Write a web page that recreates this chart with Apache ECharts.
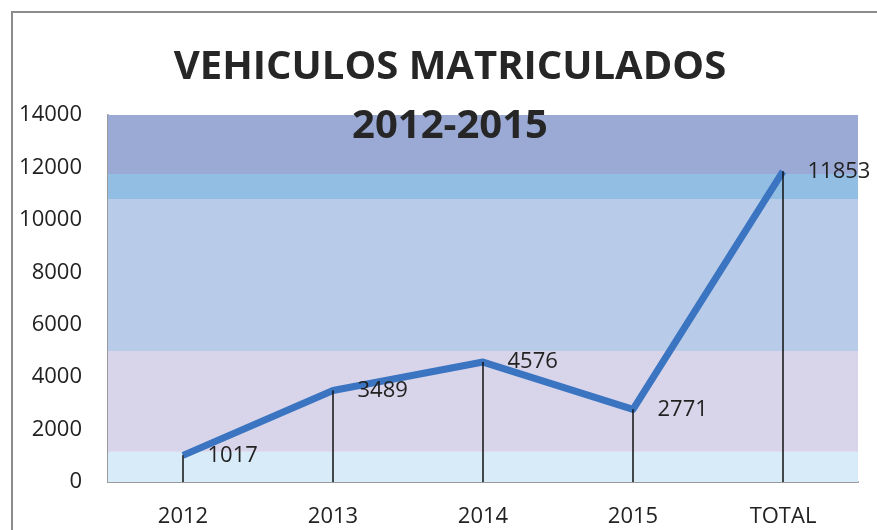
<!DOCTYPE html>
<html lang="es">
    <head>
        <meta charset="UTF-8">
        <title>Vehiculos matriculados 2012-2015</title>
        <style>
            *{
                margin: 0;
                padding: 0;
            }
            body{
                background: #ffffff;
            }
            #chart{
                width: 877px;
                height: 530px;
            }
        </style>
        <script type="text/javascript" src="https://cdn.jsdelivr.net/npm/echarts@6/dist/echarts.min.js"></script>
    </head>
    <body>
        <div id="chart"></div>
        <script>
            // data
            var categories = ['2012', '2013', '2014', '2015', 'TOTAL'];
            var vehicles = [1017, 3489, 4576, 2771, 11853];
            var yTicks = [0, 2000, 4000, 6000, 8000, 10000, 12000, 14000];
            // background bands (value ranges on the y axis)
            var bandEdges = [0, 1150, 5000, 10800, 11750, 14000];
            var bandColors = ['#d7ebf8', '#d8d5ea', '#b8cbe8', '#93bee3', '#9aaad5'];

            var chart = echarts.init(document.getElementById('chart'));

            var bands = [];
            for (var i = 0; i < bandColors.length; i++) {
                bands.push([
                    {yAxis: bandEdges[i], itemStyle: {color: bandColors[i]}},
                    {yAxis: bandEdges[i + 1]}
                ]);
            }

            // vertical drop lines from each point to the axis
            var drops = [];
            for (var j = 0; j < categories.length; j++) {
                drops.push([
                    {coord: [categories[j], vehicles[j]]},
                    {coord: [categories[j], 0]}
                ]);
            }

            var option = {
                animation: false,
                textStyle: {
                    fontFamily: 'Open Sans'
                },
                graphic: [{
                    type: 'rect',
                    shape: {x: 12, y: 12, width: 900, height: 560},
                    style: {fill: null, stroke: '#8c8c8c', lineWidth: 2},
                    silent: true
                }],
                title: {
                    text: 'VEHICULOS MATRICULADOS\n2012-2015',
                    left: 445,
                    top: 33,
                    textAlign: 'center',
                    textStyle: {
                        fontFamily: 'Open Sans',
                        fontSize: 40,
                        fontWeight: 'bold',
                        lineHeight: 59,
                        color: '#262626'
                    },
                    z: 10
                },
                grid: {
                    left: 108,
                    right: 19,
                    top: 115,
                    bottom: 48
                },
                xAxis: {
                    type: 'category',
                    data: categories,
                    axisTick: {show: false},
                    axisLine: {
                        lineStyle: {color: '#9a9a9a', width: 2}
                    },
                    axisLabel: {
                        margin: 24,
                        fontSize: 22,
                        color: '#222222'
                    }
                },
                yAxis: {
                    type: 'value',
                    min: yTicks[0],
                    max: yTicks[yTicks.length - 1],
                    interval: 2000,
                    splitLine: {show: false},
                    axisTick: {show: false},
                    axisLine: {
                        show: true,
                        lineStyle: {color: '#9a9a9a', width: 2}
                    },
                    axisLabel: {
                        margin: 26,
                        fontSize: 22,
                        color: '#222222',
                        formatter: function (v) {
                            return String(v);
                        }
                    }
                },
                series: [{
                    name: 'bands',
                    type: 'line',
                    data: [],
                    z: 1,
                    silent: true,
                    markArea: {
                        silent: true,
                        data: bands
                    }
                }, {
                    name: 'Vehiculos',
                    type: 'line',
                    data: vehicles,
                    z: 3,
                    smooth: false,
                    showSymbol: true,
                    symbol: 'circle',
                    symbolSize: 1,
                    itemStyle: {color: '#3b74c1'},
                    lineStyle: {
                        color: '#3b74c1',
                        width: 7,
                        join: 'round'
                    },
                    label: {
                        show: true,
                        position: 'right',
                        distance: 24,
                        fontSize: 22,
                        color: '#222222'
                    },
                    markLine: {
                        silent: true,
                        symbol: 'none',
                        label: {show: false},
                        lineStyle: {
                            color: '#111111',
                            width: 1.5,
                            type: 'solid'
                        },
                        data: drops
                    }
                }]
            };
            chart.setOption(option);
        </script>
    </body>
</html>
